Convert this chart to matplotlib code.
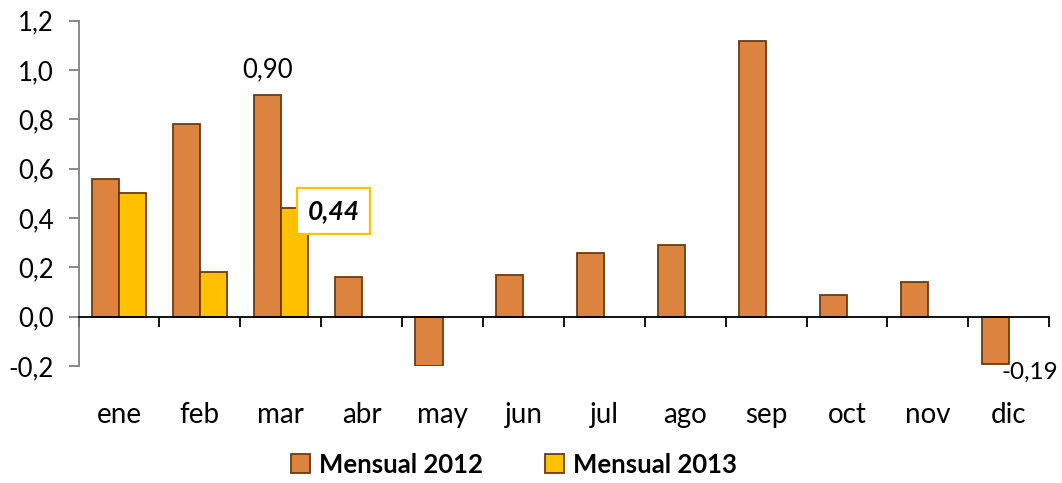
import numpy as np
import matplotlib.pyplot as plt
from matplotlib.ticker import FixedLocator

plt.rcParams['font.family'] = ['Lato', 'DejaVu Sans']

# datos
meses = ['ene', 'feb', 'mar', 'abr', 'may', 'jun', 'jul', 'ago', 'sep', 'oct', 'nov', 'dic']
mensual_2012 = [0.56, 0.78, 0.90, 0.16, -0.20, 0.17, 0.26, 0.29, 1.12, 0.09, 0.14, -0.19]
mensual_2013 = [0.50, 0.18, 0.44]
yticks = [-0.2, 0.0, 0.2, 0.4, 0.6, 0.8, 1.0, 1.2]

color_2012 = '#DC843F'
color_2013 = '#FFC000'
borde = '#6B3A12'

fig = plt.figure(figsize=(10.62, 4.83), dpi=100)
ax = fig.add_axes([0.074, 0.242, 0.914, 0.715])

x = np.arange(len(meses))
w = 0.335
b1 = ax.bar(x[:len(mensual_2012)] - w / 2, mensual_2012, w, color=color_2012,
            edgecolor=borde, linewidth=1.3, label='Mensual 2012')
b2 = ax.bar(x[:len(mensual_2013)] + w / 2, mensual_2013, w, color=color_2013,
            edgecolor=borde, linewidth=1.3, label='Mensual 2013')

ax.set_xlim(-0.5, len(meses) - 0.5)
ax.set_ylim(-0.2, 1.2)
ax.set_yticks(yticks)
ax.set_yticklabels([f'{v:.1f}'.replace('.', ',') for v in yticks], fontsize=18.5)

# eje x en el cero, etiquetas abajo
ax.spines['top'].set_visible(False)
ax.spines['right'].set_visible(False)
ax.spines['left'].set_color('#808080')
ax.spines['left'].set_linewidth(1.3)
ax.spines['bottom'].set_position(('data', 0))
ax.spines['bottom'].set_color('black')
ax.spines['bottom'].set_linewidth(1.3)
ax.tick_params(axis='y', direction='out', length=7, width=1.3, color='#808080', pad=11)

ax.set_xticks(x)
ax.set_xticklabels(meses, fontsize=20)
ax.tick_params(axis='x', which='major', length=0, pad=61)
ax.xaxis.set_minor_locator(FixedLocator(np.arange(len(meses) + 1) - 0.5))
ax.tick_params(axis='x', which='minor', direction='out', length=7, width=1.3, color='black')

# etiquetas de datos
i_mar = meses.index('mar')
ax.annotate(f'{mensual_2012[i_mar]:.2f}'.replace('.', ','),
            (x[i_mar] - w / 2, mensual_2012[i_mar]), xytext=(0, 9),
            textcoords='offset points', ha='center', va='bottom', fontsize=18.5)
i_dic = meses.index('dic')
ax.annotate(f'{mensual_2012[i_dic]:.2f}'.replace('.', ','),
            (x[i_dic], mensual_2012[i_dic]), xytext=(-5, 1),
            textcoords='offset points', ha='left', va='top', fontsize=17.5,
            annotation_clip=False)
ax.annotate(f'{mensual_2013[-1]:.2f}'.replace('.', ','),
            (x[len(mensual_2013) - 1] + w, mensual_2013[-1]), xytext=(0, -2),
            textcoords='offset points', ha='left', va='center', fontsize=19,
            fontweight='bold', fontstyle='italic',
            bbox=dict(boxstyle='square,pad=0.4', fc='white', ec=color_2013, lw=1.6))

leg = fig.legend(handles=[b1, b2], loc='lower center', bbox_to_anchor=(0.484, -0.035),
                 ncol=2, frameon=False, prop={'size': 18.5, 'weight': 'bold'},
                 handlelength=0.75, handleheight=0.75, columnspacing=2.4, handletextpad=0.35)

fig.savefig('out.png', dpi=100, facecolor='white')
